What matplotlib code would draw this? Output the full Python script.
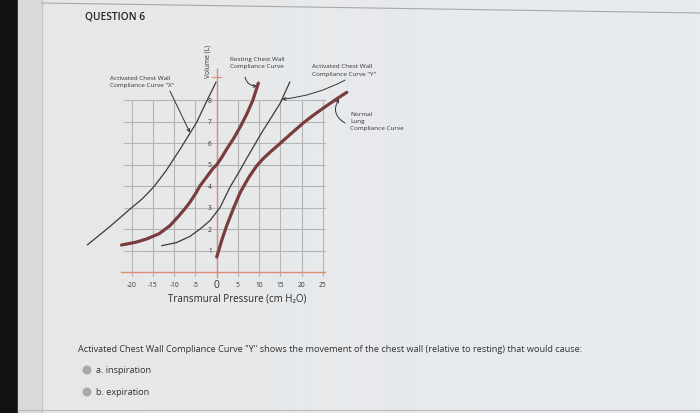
import numpy as np
import matplotlib.pyplot as plt
from matplotlib.patches import Circle

plt.rcParams['font.family'] = ['Open Sans', 'DejaVu Sans']

# Data (pressure cm H2O, volume L)
resting_x = [-22.4, -19, -16.5, -13.5, -11, -9, -7.5, -6.3, -5, -3.9, -2.3, -0.8, 0, 1.2, 2.35, 3.9, 5.5, 7.06, 8.5, 9.8]
resting_y = [1.27, 1.4, 1.55, 1.8, 2.17, 2.6, 2.95, 3.26, 3.65, 4.03, 4.45, 4.85, 5.0, 5.35, 5.73, 6.2, 6.75, 7.35, 8.0, 8.8]

act_x_x = [-30.4, -25, -20.4, -17.5, -14.9, -12, -8.6, -6.5, -4.7, -2.5, -0.16]
act_x_y = [1.28, 2.15, 2.94, 3.42, 3.95, 4.7, 5.73, 6.4, 6.98, 7.9, 8.84]

act_y_x = [-12.9, -9.5, -6.3, -4, -1.6, 0.8, 3.1, 5.5, 7.06, 10.6, 14.9, 17.2]
act_y_y = [1.24, 1.38, 1.67, 2.0, 2.4, 3.02, 3.95, 4.75, 5.3, 6.5, 7.85, 8.85]

lung_x = [0.0, 0.6, 1.2, 2.35, 4, 5.5, 7.5, 9.4, 11, 12.8, 14.5, 17.5, 20.4, 22.7, 25.9, 28.5, 30.6]
lung_y = [0.71, 1.1, 1.5, 2.17, 3.0, 3.7, 4.4, 4.95, 5.3, 5.63, 5.92, 6.45, 6.95, 7.3, 7.75, 8.1, 8.37]

x_ticks = [-20, -15, -10, -5, 0, 5, 10, 15, 20, 25]
y_ticks = [1, 2, 3, 4, 5, 6, 7, 8]

W, H = 700, 414
fig = plt.figure(figsize=(7, 4.14), dpi=100)

# page background (pixel coordinates)
bg = fig.add_axes([0, 0, 1, 1])
bg.set_xlim(0, W)
bg.set_ylim(H, 0)
bg.axis('off')
grad = np.linspace(0, 1, 200)
c0 = np.array([231, 231, 231]) / 255
c1 = np.array([231, 236, 241]) / 255
img = (c0[None, :] * (1 - grad[:, None]) + c1[None, :] * grad[:, None])[None, :, :]
bg.imshow(img, extent=[0, W, H, 0], aspect='auto')
bg.fill_between([0, 18], 0, H, color='#111111')
bg.fill_between([18, 42], 0, H, color='#dadada')
bg.plot([42, 42], [0, H], color='#c4c4c4', lw=0.8)
bg.plot([42, W], [4, 14], color='#a8a8a8', lw=0.8)
bg.plot([18, W], [411, 411], color='#bdbdbd', lw=0.8)

bg.text(85, 17, 'QUESTION 6', fontsize=7.3, fontweight='semibold', color='#222222', va='center')
bg.text(78, 350, 'Activated Chest Wall Compliance Curve "Y" shows the movement of the chest wall (relative to resting) that would cause:',
        fontsize=6.6, color='#333333', va='center')
for yy, lab in [(371, 'a. inspiration'), (393, 'b. expiration')]:
    bg.add_patch(Circle((87, yy), 3.8, color='#a9a9a9'))
    bg.text(96, yy, lab, fontsize=6.6, color='#333333', va='center')

# chart axes: x_px = 216.7 + 4.25*x ; y_px = 273.3 - 21.5*y
def px2x(p):
    return (p - 216.7) / 4.25

def py2y(p):
    return (273.3 - p) / 21.5

left, right, top, bottom = 60, 420, 30, 320
ax = fig.add_axes([left / W, 1 - bottom / H, (right - left) / W, (bottom - top) / H])
ax.set_xlim(px2x(left), px2x(right))
ax.set_ylim(py2y(bottom), py2y(top))
ax.axis('off')
ax.patch.set_alpha(0)

grid_c = '#b5b5b5'
for xv in x_ticks:
    ax.plot([xv, xv], [-0.16, 8.0], color=grid_c, lw=0.8, zorder=1)
for yv in y_ticks:
    ax.plot([-21.8, 25.4], [yv, yv], color=grid_c, lw=0.8, zorder=1)

axis_c = '#de8b72'
ax.plot([-22.5, 25.4], [0, 0], color=axis_c, lw=1.0, zorder=2)
ax.plot([0, 0], [-0.2, 9.45], color=axis_c, lw=1.0, zorder=2)
ax.plot([-1.1, 1.1], [9.07, 9.07], color=axis_c, lw=0.8, zorder=2)

for xv in x_ticks:
    if xv == 0:
        ax.text(xv, -0.55, '0', fontsize=7.5, ha='center', va='center', color='#333333')
    else:
        ax.text(xv, -0.55, str(xv), fontsize=4.8, ha='center', va='center', color='#333333')
for yv in y_ticks:
    ax.text(-1.6, yv, str(yv), fontsize=4.8, ha='center', va='center', color='#333333')

ax.text(4.9, py2y(299), 'Transmural Pressure (cm H₂O)', fontsize=7.0, ha='center', va='center', color='#2a2a2a')
ax.text(-2.05, 9.87, 'Volume (L)', fontsize=4.8, rotation=90, ha='center', va='center', color='#333333')

thick_c = '#7a3d3d'
thin_c = '#3a3a3a'
ax.plot(resting_x, resting_y, color=thick_c, lw=2.3, solid_capstyle='round', solid_joinstyle='round', zorder=4)
ax.plot(lung_x, lung_y, color=thick_c, lw=2.3, solid_capstyle='round', solid_joinstyle='round', zorder=4)
ax.plot(act_x_x, act_x_y, color=thin_c, lw=0.9, zorder=4)
ax.plot(act_y_x, act_y_y, color=thin_c, lw=0.9, zorder=4)

fs = 4.6
tc = '#333333'
ax.text(-25.1, 8.9, 'Activated Chest Wall\nCompliance Curve "X"', fontsize=fs, va='center', ha='left', color=tc, linespacing=1.6)
ax.text(3.1, 9.78, 'Resting Chest Wall\nCompliance Curve', fontsize=fs, va='center', ha='left', color=tc, linespacing=1.6)
ax.text(22.4, 9.43, 'Activated Chest Wall\nCompliance Curve "Y"', fontsize=fs, va='center', ha='left', color=tc, linespacing=1.6)
ax.text(31.4, 7.08, 'Normal\nLung\nCompliance Curve', fontsize=fs, va='center', ha='left', color=tc, linespacing=1.5)

arr = dict(arrowstyle='->', color='#333333', lw=0.7, shrinkA=0, shrinkB=0, mutation_scale=5)
ax.annotate('', xy=(-6.3, 6.5), xytext=(-11.0, 8.43), arrowprops=arr)
ax.annotate('', xy=(9.48, 8.67), xytext=(6.66, 9.08), arrowprops=dict(arr, connectionstyle='arc3,rad=0.4'))
ax.annotate('', xy=(15.4, 8.05), xytext=(30.2, 8.94), arrowprops=dict(arr, connectionstyle='arc3,rad=-0.1'))
ax.annotate('', xy=(28.8, 8.06), xytext=(30.2, 6.94), arrowprops=dict(arr, connectionstyle='arc3,rad=-0.5'))

fig.savefig('out.png', dpi=100)
